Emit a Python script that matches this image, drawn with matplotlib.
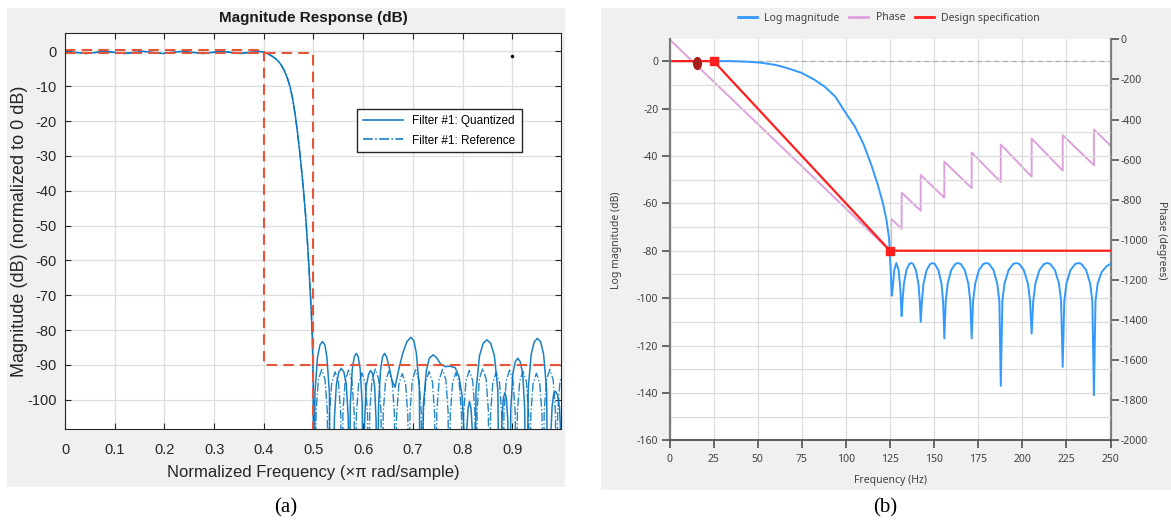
import matplotlib.pyplot as plt
from matplotlib.patches import Rectangle
from matplotlib.lines import Line2D
from matplotlib.markers import MarkerStyle
from matplotlib.transforms import Affine2D

plt.rcParams['font.family'] = ['Liberation Sans', 'DejaVu Sans']
plt.rcParams['axes.unicode_minus'] = False

# ---------------- panel (a): fvtool magnitude response ----------------
# passband ripple + transition band (normalized freq, dB)
pass_f = [0.000, 0.020, 0.043, 0.063, 0.082, 0.100, 0.120, 0.140, 0.158, 0.177,
          0.196, 0.216, 0.236, 0.257, 0.278, 0.297, 0.315, 0.334, 0.352, 0.371,
          0.390, 0.400, 0.405, 0.411, 0.417, 0.423, 0.429, 0.435, 0.441, 0.447,
          0.453, 0.458, 0.463, 0.468, 0.472, 0.476, 0.480, 0.484, 0.4875,
          0.4905, 0.493, 0.4955, 0.4976, 0.4995, 0.501]
pass_db = [0.0, -0.3, -0.6, -0.3, 0.0, -0.3, -0.6, -0.3, 0.0, -0.3,
           -0.6, -0.3, 0.0, -0.3, -0.6, -0.3, 0.0, -0.3, -0.6, -0.3,
           0.0, -0.2, -0.5, -0.9, -1.4, -2.0, -2.8, -3.9, -5.4, -7.5,
           -10.2, -13.6, -18.0, -23.5, -28.5, -34.0, -40.0, -47.0, -54.0,
           -61.0, -67.5, -74.5, -82.0, -95.0, -140.0]

# quantized filter stopband lobes
quant_f = [0.503, 0.508, 0.513, 0.518, 0.523, 0.527, 0.532, 0.534,
           0.540, 0.542, 0.546, 0.551, 0.556, 0.561, 0.566, 0.570, 0.572,
           0.574, 0.578, 0.582, 0.586, 0.590, 0.594, 0.598, 0.600,
           0.603, 0.606, 0.611, 0.615, 0.619, 0.623, 0.626, 0.628,
           0.631, 0.635, 0.639, 0.643, 0.647, 0.652, 0.658, 0.664, 0.672, 0.680,
           0.688, 0.696, 0.702, 0.707, 0.713, 0.715,
           0.718, 0.721, 0.727, 0.733, 0.741, 0.748, 0.756, 0.765, 0.775, 0.785,
           0.793, 0.799, 0.803, 0.805,
           0.808, 0.811, 0.814, 0.817, 0.820, 0.822,
           0.824, 0.827, 0.834, 0.8415, 0.849, 0.8565, 0.864, 0.871, 0.874,
           0.876, 0.879, 0.882, 0.885, 0.888, 0.891, 0.893,
           0.895, 0.897, 0.901, 0.906, 0.911, 0.916, 0.921, 0.925, 0.927,
           0.929, 0.932, 0.938, 0.944, 0.9505, 0.957, 0.963, 0.969, 0.972,
           0.975, 0.977, 0.980, 0.983, 0.987, 0.991, 0.995, 0.998]
quant_db = [-97.9, -87.9, -84.3, -83.3, -84.3, -87.9, -97.9, -140,
            -140, -105.6, -95.6, -92.0, -91.0, -92.0, -95.6, -105.6, -140,
            -101.3, -91.3, -87.7, -86.7, -87.7, -91.3, -101.3, -140,
            -106.2, -96.2, -92.6, -91.6, -92.6, -96.2, -106.2, -140,
            -101.3, -91.3, -87.7, -86.7, -87.7, -90.5, -94.5, -96.4, -91.0, -86.5,
            -83.3, -82.1, -83.1, -86.7, -96.7, -140,
            -140, -101.7, -91.7, -88.1, -87.1, -88.0, -89.8, -90.5, -90.4, -90.8,
            -93.5, -99.0, -110.0, -140,
            -110.0, -102.5, -100.5, -102.5, -110.0, -140,
            -140, -97.4, -87.4, -83.8, -82.8, -83.8, -87.4, -97.4, -140,
            -140, -106.0, -99.5, -98.0, -99.5, -106.0, -140,
            -140, -102.7, -92.7, -89.1, -88.1, -89.1, -92.7, -102.7, -140,
            -140, -97.0, -87.0, -83.4, -82.4, -83.4, -87.0, -97.0, -140,
            -140, -112.0, -102.2, -98.6, -97.6, -98.6, -102.2, -112.0]

# reference filter stopband lobes (equiripple)
ref_f = [0.503, 0.5052, 0.5098, 0.5165, 0.5233, 0.5278,
         0.530, 0.5322, 0.5368, 0.5435, 0.5503, 0.5548,
         0.557, 0.5592, 0.5638, 0.5705, 0.5773, 0.5818,
         0.584, 0.5862, 0.5908, 0.5975, 0.6043, 0.6088,
         0.611, 0.6132, 0.6178, 0.6245, 0.6313, 0.6358,
         0.638, 0.6402, 0.6448, 0.6515, 0.6583, 0.6628,
         0.665, 0.6672, 0.6718, 0.6785, 0.6853, 0.6898,
         0.692, 0.6942, 0.6988, 0.7055, 0.7123, 0.7168,
         0.719, 0.7212, 0.7258, 0.7325, 0.7393, 0.7438,
         0.746, 0.7482, 0.7528, 0.7595, 0.7663, 0.7708,
         0.773, 0.7752, 0.7798, 0.7865, 0.7933, 0.7978,
         0.800, 0.8022, 0.8068, 0.8135, 0.8203, 0.8248,
         0.827, 0.8292, 0.8338, 0.8405, 0.8473, 0.8518,
         0.854, 0.8562, 0.8608, 0.8675, 0.8743, 0.8788,
         0.881, 0.8832, 0.8878, 0.8945, 0.9013, 0.9058,
         0.908, 0.9102, 0.9148, 0.9215, 0.9283, 0.9328,
         0.935, 0.9372, 0.9418, 0.9485, 0.9553, 0.9598,
         0.962, 0.9642, 0.9688, 0.9755, 0.9823, 0.9868,
         0.989, 0.9912, 0.9958, 0.998]
ref_db = [-140, -103.4, -94.3, -91.3, -94.3, -103.4,
          -140, -104.1, -95.0, -92.0, -95.0, -104.1,
          -140, -103.6, -94.5, -91.5, -94.5, -103.6,
          -140, -104.4, -95.3, -92.3, -95.3, -104.4,
          -140, -103.3, -94.2, -91.2, -94.2, -103.3,
          -140, -103.9, -94.8, -91.8, -94.8, -103.9,
          -140, -104.6, -95.5, -92.5, -95.5, -104.6,
          -140, -103.5, -94.4, -91.4, -94.4, -103.5,
          -140, -104.0, -94.9, -91.9, -94.9, -104.0,
          -140, -103.4, -94.3, -91.3, -94.3, -103.4,
          -140, -104.3, -95.2, -92.2, -95.2, -104.3,
          -140, -103.7, -94.6, -91.6, -94.6, -103.7,
          -140, -103.1, -94.0, -91.0, -94.0, -103.1,
          -140, -104.2, -95.1, -92.1, -95.1, -104.2,
          -140, -103.6, -94.5, -91.5, -94.5, -103.6,
          -140, -103.9, -94.8, -91.8, -94.8, -103.9,
          -140, -104.5, -95.4, -92.4, -95.4, -104.5,
          -140, -103.4, -94.3, -91.3, -94.3, -103.4,
          -140, -104.0, -95.0, -93.5]

# specification mask
mask_up_f = [0.0, 0.4, 0.4, 0.998]
mask_up_db = [0.4, 0.4, -90.0, -90.0]
mask_lo_f = [0.0, 0.5, 0.5]
mask_lo_db = [-0.4, -0.4, -120.0]

a_xticks = [0, 0.1, 0.2, 0.3, 0.4, 0.5, 0.6, 0.7, 0.8, 0.9]
a_xlabels = ['0', '0.1', '0.2', '0.3', '0.4', '0.5', '0.6', '0.7', '0.8', '0.9']
a_yticks = [-100, -90, -80, -70, -60, -50, -40, -30, -20, -10, 0]

# ---------------- panel (b): magnitude / phase / spec ----------------
mag_f = [0, 35, 45, 52, 60, 67, 75, 82, 88, 94, 100, 105, 110, 114.5, 118, 121,
         123, 124.5, 125.5, 126.0,
         126.6, 127.4, 128.6, 129.9, 130.8, 131.6,
         132.1, 132.9, 134.3, 135.9, 137.0, 138.1, 139.7, 141.1, 141.9, 142.4,
         143.1, 144.0, 145.75, 147.8, 149.1, 150.4, 152.45, 154.2, 155.1, 155.8,
         156.6, 157.7, 159.7, 162.0, 163.55, 165.1, 167.4, 169.4, 170.5, 171.3,
         172.1, 173.3, 175.4, 177.9, 179.55, 181.2, 183.7, 185.8, 187.0, 187.8,
         188.7, 189.9, 192.2, 194.8, 196.55, 198.3, 200.9, 203.2, 204.4, 205.3,
         206.2, 207.4, 209.7, 212.3, 214.1, 215.9, 218.5, 220.8, 222.0, 222.9,
         223.8, 225.0, 227.3, 230.0, 231.75, 233.5, 236.2, 238.5, 239.7, 240.6,
         241.5, 242.7, 245.0, 247.7, 250.0]
mag_db = [0, 0, -0.3, -0.7, -1.6, -3.0, -5.0, -7.8, -10.8, -15.0, -22, -27.5, -35, -44,
          -52, -60, -67, -75, -90, -99,
          -95.4, -88.2, -85.2, -88.2, -95.4, -107.6,
          -101.3, -93.9, -88.2, -85.6, -85.2, -85.6, -88.2, -93.9, -101.3, -110,
          -101.3, -93.9, -88.2, -85.6, -85.2, -85.6, -88.2, -93.9, -101.3, -117,
          -101.3, -93.9, -88.2, -85.6, -85.2, -85.6, -88.2, -93.9, -101.3, -117,
          -101.3, -93.9, -88.2, -85.6, -85.2, -85.6, -88.2, -93.9, -101.3, -137,
          -101.3, -93.9, -88.2, -85.6, -85.2, -85.6, -88.2, -93.9, -101.3, -115,
          -101.3, -93.9, -88.2, -85.6, -85.2, -85.6, -88.2, -93.9, -101.3, -129,
          -101.3, -93.9, -88.2, -85.6, -85.2, -85.6, -88.2, -93.9, -101.3, -141,
          -101.3, -93.9, -89.0, -86.6, -85.6]

phase_f = [0, 125.6, 125.6, 131.6, 131.6, 142.4, 142.4, 155.8, 155.8, 171.3, 171.3,
           187.8, 187.8, 205.3, 205.3, 222.9, 222.9, 240.6, 240.6, 250]
phase_deg = [0, -1060, -895, -945, -765, -855, -677, -790, -610, -742, -565,
             -712, -525, -685, -495, -655, -478, -628, -450, -530]

spec_f = [0, 25, 125, 250]
spec_db = [0, 0, -80, -80]
cutoff_f = [15.8]
cutoff_db = [-0.9]

b_xticks = [0, 25, 50, 75, 100, 125, 150, 175, 200, 225, 250]
b_yticks = [0, -20, -40, -60, -80, -100, -120, -140, -160]
phase_ticks = [0, -200, -400, -600, -800, -1000, -1200, -1400, -1600, -1800, -2000]

# ---------------- figure ----------------
W, H = 1171, 523
fig = plt.figure(figsize=(W / 100, H / 100), dpi=100)


def px_rect(x0, y0, x1, y1):
    return [x0 / W, 1 - y1 / H, (x1 - x0) / W, (y1 - y0) / H]


for x0, y0, x1, y1 in [(7, 8, 565, 487), (601, 8, 1171, 490)]:
    r = px_rect(x0, y0, x1, y1)
    fig.patches.append(Rectangle((r[0], r[1]), r[2], r[3], transform=fig.transFigure,
                                 facecolor='#f0f0f0', edgecolor='none', zorder=-5))

# ---- (a)
blue = '#0072bd'
mask_c = '#e4553a'
ax = fig.add_axes(px_rect(65, 33.3, 561, 429.3))
ax.set_facecolor('white')
ax.plot(pass_f + ref_f, pass_db + ref_db, color=blue, lw=1.0, ls='-.', alpha=0.85)
ax.plot(pass_f + quant_f, pass_db + quant_db, color=blue, lw=1.1, alpha=0.9)
ax.plot(mask_up_f, mask_up_db, color=mask_c, lw=1.5, ls=(0, (5, 3)))
ax.plot(mask_lo_f, mask_lo_db, color=mask_c, lw=1.5, ls=(0, (5, 3)))
ax.plot([0.899], [-1.3], 'o', color='black', ms=1.5)
ax.set_xlim(0, 0.998)
ax.set_ylim(-108.5, 5.2)
ax.set_xticks(a_xticks)
ax.set_xticklabels(a_xlabels)
ax.set_yticks(a_yticks)
ax.grid(True, color='#dedede', lw=0.9)
ax.set_axisbelow(True)
ax.tick_params(direction='in', top=True, right=True, length=4, width=0.8,
               labelsize=10.5, colors='#262626', pad=6)
ax.tick_params(axis='x', pad=10)
for s in ax.spines.values():
    s.set_color('#262626')
    s.set_linewidth(0.8)

leg_h = [Line2D([], [], color=blue, lw=1.1), Line2D([], [], color=blue, lw=1.1, ls='-.')]
ax.legend(leg_h, ['Filter #1: Quantized', 'Filter #1: Reference'], loc='upper left',
          bbox_to_anchor=(357 / W, 1 - 109 / H), bbox_transform=fig.transFigure,
          fancybox=False, edgecolor='#262626', framealpha=1, fontsize=8.5,
          handlelength=3.4, borderpad=0.5, labelspacing=0.65, borderaxespad=0)

fig.text(313 / W, 1 - 18 / H, 'Magnitude Response (dB)', ha='center', va='center',
         fontsize=11, fontweight='bold', color='#1a1a1a')
fig.text(313 / W, 1 - 473 / H, 'Normalized Frequency (×π rad/sample)', ha='center',
         va='center', fontsize=12, color='#262626')
fig.text(20 / W, 1 - 231 / H, 'Magnitude (dB) (normalized to 0 dB)', ha='center',
         va='center', rotation=90, fontsize=13, color='#262626')

# ---- (b)
bfont = 'Noto Sans'
tc = '#404040'
axb = fig.add_axes(px_rect(669.5, 39.3, 1110.5, 440.3))
ax2 = axb.twinx()
axb.set_zorder(ax2.get_zorder() + 1)
axb.patch.set_visible(False)
ax2.patch.set_visible(True)
ax2.set_facecolor('white')

ax2.plot(phase_f, phase_deg, color='#dda0dd', lw=1.4)
ax2.set_ylim(-2000, 0)
ax2.set_yticks(phase_ticks)

axb.axhline(0, color='#b0b0b0', lw=0.9, ls=(0, (4, 3)))
axb.plot(mag_f, mag_db, color='#3399ff', lw=1.4)
axb.plot(spec_f, spec_db, color='#ff1f1f', lw=1.6, marker='s', markevery=[1, 2], ms=5.5)
axb.plot(cutoff_f, cutoff_db, ls='none', color='#a81c1c',
         marker=MarkerStyle('o', transform=Affine2D().scale(0.65, 1.0)), ms=8.5)
axb.set_xlim(0, 250)
axb.set_ylim(-160, 9.2)
axb.set_xticks(b_xticks)
axb.set_yticks(b_yticks)
axb.set_yticks(list(range(-150, 10, 20)), minor=True)
axb.grid(True, which='both', color='#dcdcdc', lw=0.9)
axb.tick_params(which='minor', length=0)
axb.tick_params(which='major', direction='out', length=6, width=1.2, color='#505050',
                labelsize=7.5, labelcolor=tc, pad=2)
axb.tick_params(axis='x', pad=4)
ax2.tick_params(direction='out', length=6, width=1.2, color='#505050',
                labelsize=7.5, labelcolor=tc, pad=1.5)

for s in ['top', 'right']:
    axb.spines[s].set_visible(False)
for s in ['top', 'left', 'bottom']:
    ax2.spines[s].set_visible(False)
axb.spines['left'].set_color('#7a7a7a')
axb.spines['left'].set_linewidth(1.6)
axb.spines['bottom'].set_color('#505050')
axb.spines['bottom'].set_linewidth(1.3)
ax2.spines['right'].set_color('#7a7a7a')
ax2.spines['right'].set_linewidth(1.6)

for lab in axb.get_xticklabels() + axb.get_yticklabels() + ax2.get_yticklabels():
    lab.set_fontfamily(bfont)

fig.legend([Line2D([], [], color='#3399ff', lw=2), Line2D([], [], color='#dda0dd', lw=2),
            Line2D([], [], color='#ff1f1f', lw=2)],
           ['Log magnitude', 'Phase', 'Design specification'], ncol=3, loc='center',
           bbox_to_anchor=(889 / W, 1 - 18 / H), frameon=False,
           prop={'family': bfont, 'size': 7.5}, labelcolor=tc,
           handlelength=1.8, handletextpad=0.7, columnspacing=1.0)

fig.text(890 / W, 1 - 481 / H, 'Frequency (Hz)', ha='center', va='center',
         fontsize=7.5, family=bfont, color=tc)
fig.text(616 / W, 1 - 240 / H, 'Log magnitude (dB)', ha='center', va='center',
         rotation=90, fontsize=7.5, family=bfont, color=tc)
fig.text(1162 / W, 1 - 240 / H, 'Phase (degrees)', ha='center', va='center',
         rotation=270, fontsize=7.5, family=bfont, color=tc)

# captions
fig.text(286 / W, 1 - 508 / H, '(a)', ha='center', va='center', fontsize=15,
         family='Liberation Serif')
fig.text(885 / W, 1 - 508 / H, '(b)', ha='center', va='center', fontsize=15,
         family='Liberation Serif')

fig.savefig('out.png', dpi=100)
